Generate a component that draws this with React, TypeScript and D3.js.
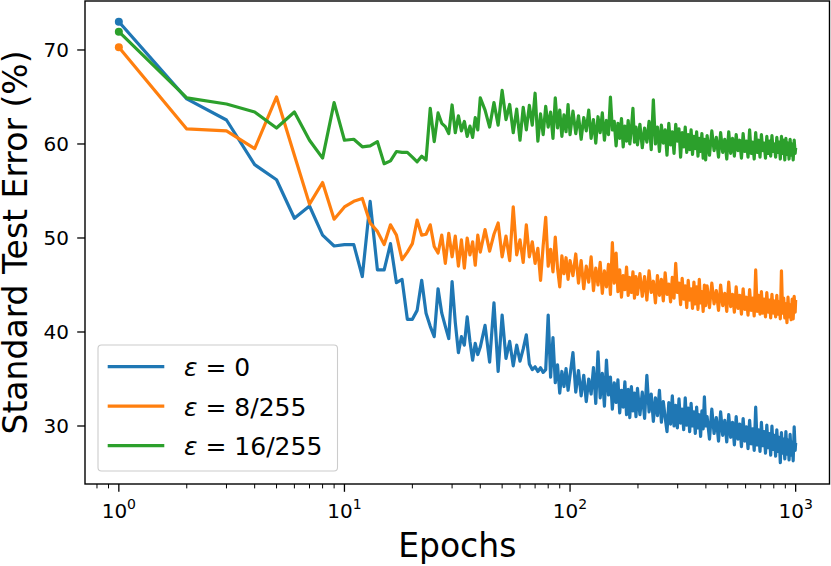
import * as d3 from 'd3';

// epochs at which the curves are sampled (dense at start, thinner later on)
const epochs = [
  ...d3.range(1, 41),
  ...d3.range(42, 101, 2),
  ...d3.range(103, 200, 3),
  ...d3.range(204, 400, 5),
  ...d3.range(405, 1000, 10),
  1000,
];

// eps = 0
const blueA = [
  73.0, 64.8, 62.55, 57.8, 56.2, 52.1, 53.4, 50.3, 49.15, 49.3,
  49.3, 45.9, 53.9, 46.6, 46.6, 49.4, 45.25, 45.6, 41.35, 41.35,
  42.3, 45.5, 42.0, 40.6, 39.5, 44.6, 42.0, 40.6, 39.3, 45.35,
  41.0, 37.8, 39.5, 38.6, 41.6, 39.0, 37.0, 38.8, 37.6, 38.4,
];
const blueB = [
  40.7, 36.8, 43.1, 35.8, 41.8, 37.2, 39.0, 36.4, 38.6, 36.9,
  38.2, 39.7, 36.6, 36.0, 36.3, 35.8, 36.2, 35.7, 36.0, 41.8,
  35.2, 39.4, 34.6, 36.5, 33.5, 35.8, 34.2, 36.1, 33.8, 35.4,
];
const blueC = [
  37.8, 33.6, 35.9, 33.2, 35.4, 32.6, 35.0, 33.4, 36.2, 32.4,
  37.9, 33.0, 35.6, 32.1, 37.0, 33.3, 35.2, 31.8, 34.6, 32.5,
  34.9, 31.4, 33.8, 32.0, 34.7, 31.2, 33.9, 30.9, 34.2, 31.6,
  33.5, 31.0, 34.0,
];
const blueD = [
  31.2, 33.6, 30.8, 35.4, 31.5, 33.4, 30.5, 33.0, 31.1, 33.8,
  30.4, 32.6, 30.9, 29.4, 32.5, 30.2, 33.2, 30.0, 32.2, 29.8,
  32.9, 30.3, 31.8, 29.6, 33.0, 30.1, 31.9, 29.4, 32.4, 30.0,
  31.5, 29.2, 32.0, 29.8, 31.2, 28.9, 31.6, 29.7, 33.1, 30.0,
];
const blueE = [
  31.0, 28.6, 31.8, 29.2, 30.9, 28.4, 31.5, 29.0, 30.6, 28.3,
  31.2, 28.8, 30.4, 28.0, 31.0, 28.6, 30.2, 27.8, 30.8, 28.4,
  29.9, 27.6, 30.6, 28.1, 29.7, 27.4, 32.0, 28.0, 29.6, 27.3,
  30.4, 27.9, 29.4, 27.1, 30.1, 27.7, 29.2, 26.9, 30.0, 27.5,
  29.0, 26.8, 29.6, 27.3, 28.8, 26.1, 29.3, 27.1, 28.6, 26.5,
  29.4, 27.0, 28.5, 26.4, 29.1, 26.9, 28.3, 26.3, 29.9, 27.4,
  28.2,
];

// eps = 8/255
const orangeA = [
  70.3, 61.6, 61.4, 59.5, 65.0, 58.8, 53.6, 55.9, 52.0, 53.3,
  53.9, 54.2, 51.6, 50.7, 49.3, 51.4, 50.3, 47.7, 48.5, 49.4,
  51.9, 50.3, 50.4, 51.4, 49.1, 48.4, 50.3, 47.3, 50.5, 48.0,
  50.2, 47.0, 49.8, 46.8, 50.0, 48.2, 49.6, 47.1, 50.3, 48.5,
];
const orangeB = [
  50.9, 48.6, 50.4, 51.6, 48.0, 50.2, 47.6, 53.3, 48.2, 49.8,
  47.4, 51.4, 48.0, 49.6, 47.3, 48.9, 45.5, 49.2, 52.2, 47.0,
  48.8, 46.4, 50.1, 46.8, 44.8, 48.1, 46.2, 47.9, 45.6, 47.6,
];
const orangeC = [
  46.0, 48.3, 45.2, 47.6, 44.6, 47.0, 45.3, 48.0, 44.4, 46.8,
  45.0, 47.4, 44.1, 46.5, 44.8, 47.2, 44.0, 49.5, 45.2, 48.4,
  44.3, 46.6, 43.7, 46.0, 44.5, 46.9, 43.9, 45.8, 44.2, 46.4,
  43.6, 45.9, 44.0,
];
const orangeD = [
  46.2, 43.8, 45.9, 43.4, 46.5, 44.2, 45.4, 43.1, 46.0, 43.9,
  45.6, 43.3, 46.3, 44.0, 45.1, 43.2, 45.8, 43.6, 47.3, 44.2,
  45.2, 42.9, 45.7, 43.5, 44.9, 42.6, 45.5, 43.4, 44.6, 42.5,
  45.3, 43.0, 44.8, 42.4, 45.6, 43.1, 44.3, 42.2, 45.0, 42.8,
];
const orangeE = [
  44.9, 42.6, 45.2, 43.0, 44.4, 42.3, 45.0, 42.8, 44.1, 42.2,
  45.3, 42.7, 44.0, 42.1, 44.8, 42.5, 43.9, 41.9, 44.6, 42.4,
  43.7, 41.8, 44.5, 42.3, 43.6, 41.7, 46.6, 42.2, 43.9, 41.9,
  44.3, 42.0, 43.5, 41.6, 44.2, 42.1, 43.4, 41.5, 44.0, 42.0,
  43.3, 41.6, 43.9, 41.9, 43.2, 41.4, 46.5, 42.0, 43.6, 41.5,
  43.0, 41.0, 43.7, 41.6, 42.9, 41.3, 43.5, 41.4, 43.8, 42.1,
  43.4,
];

// eps = 16/255
const greenA = [
  71.95, 64.9, 64.25, 63.4, 61.7, 63.4, 60.4, 58.5, 64.4, 60.4,
  60.5, 59.7, 59.8, 60.25, 57.9, 58.2, 59.2, 59.1, 59.1, 58.6,
  58.1, 58.7, 58.3, 63.8, 60.25, 63.3, 62.2, 61.85, 61.1, 64.15,
  61.2, 63.0, 61.4, 62.4, 60.8, 61.9, 60.7, 62.8, 61.5, 64.9,
];
const greenB = [
  63.6, 61.8, 64.4, 62.0, 65.7, 62.6, 64.2, 61.2, 63.7, 60.4,
  63.9, 61.5, 64.1, 62.0, 65.4, 60.3, 63.2, 61.0, 64.0, 61.8,
  63.4, 60.6, 64.9, 61.7, 63.6, 60.8, 63.1, 61.3, 64.2, 61.0,
];
const greenC = [
  63.5, 61.1, 63.0, 60.5, 62.8, 61.4, 63.6, 60.6, 62.6, 60.1,
  62.9, 61.2, 63.3, 60.4, 62.5, 61.0, 65.0, 61.5, 62.4, 59.8,
  62.2, 60.6, 62.7, 59.7, 61.9, 60.3, 62.5, 60.0, 61.6, 63.8,
  60.2, 61.8, 59.9,
];
const greenD = [
  62.1, 59.6, 61.7, 60.2, 62.4, 59.4, 64.7, 60.0, 61.8, 59.2,
  62.0, 60.1, 61.5, 58.8, 62.2, 59.9, 61.3, 59.0, 62.1, 60.3,
  61.6, 58.6, 61.2, 59.7, 61.8, 59.1, 61.0, 59.4, 61.5, 58.9,
  60.8, 59.5, 61.3, 58.7, 60.6, 59.2, 61.1, 58.5, 60.5, 58.3,
];
const greenE = [
  60.9, 58.8, 61.4, 59.3, 60.7, 58.6, 61.2, 59.1, 60.5, 58.4,
  61.3, 59.0, 60.6, 58.7, 61.0, 59.3, 60.4, 58.5, 61.1, 59.2,
  60.3, 58.6, 61.5, 59.0, 60.2, 58.4, 61.2, 59.1, 60.4, 58.6,
  61.0, 59.3, 60.1, 58.5, 60.8, 59.0, 60.3, 58.7, 60.9, 59.2,
  60.0, 58.6, 60.7, 59.1, 60.2, 58.4, 60.8, 59.0, 60.4, 58.3,
  60.6, 58.9, 60.1, 58.4, 60.5, 58.8, 60.0, 58.3, 60.4, 59.0,
  59.6,
];

const seriesValues = [
  [...blueA, ...blueB, ...blueC, ...blueD, ...blueE],
  [...orangeA, ...orangeB, ...orangeC, ...orangeD, ...orangeE],
  [...greenA, ...greenB, ...greenC, ...greenD, ...greenE],
];
const seriesLabels = ['0', '8/255', '16/255'];
const colors = ['#1f77b4', '#ff7f0e', '#2ca02c'];
const yTicks = [30, 40, 50, 60, 70];
const xDecades = [0, 1, 2, 3];

const W = 831;
const H = 566;
const left = 85;
const right = 829.5;
const top = 1;
const bottom = 484;
const lw = 3.2;
const font = '"DejaVu Sans", sans-serif';

export default function App() {
  const x = d3.scaleLog().domain([Math.pow(10, -0.15), Math.pow(10, 3.15)]).range([left, right]);
  const y = d3.scaleLinear().domain([23.83, 75.21]).range([bottom, top]);

  const line = d3
    .line<[number, number]>()
    .x((d) => x(d[0]))
    .y((d) => y(d[1]));

  // minor log ticks inside the domain
  const [d0, d1] = x.domain();
  const minor: number[] = [];
  for (let p = -1; p <= 3; p++) {
    for (let m = 2; m <= 9; m++) {
      const v = m * Math.pow(10, p);
      if (v >= d0 && v <= d1) minor.push(v);
    }
  }

  return (
    <svg
      width={W}
      height={H}
      style={{ position: 'absolute', left: 0, top: 0, background: 'white' }}
      fontFamily={font}
    >
      {/* data */}
      <g fill="none" strokeWidth={lw} strokeLinejoin="round">
        {seriesValues.map((vals, i) => (
          <path
            key={i}
            stroke={colors[i]}
            d={line(epochs.map((e, j) => [e, vals[j]] as [number, number])) || ''}
          />
        ))}
      </g>
      {seriesValues.map((vals, i) => (
        <circle key={i} cx={x(epochs[0])} cy={y(vals[0])} r={4} fill={colors[i]} />
      ))}

      {/* spines */}
      <rect
        x={left}
        y={top}
        width={right - left}
        height={bottom - top}
        fill="none"
        stroke="black"
        strokeWidth={1.4}
      />

      {/* y axis */}
      {yTicks.map((t) => (
        <g key={t} transform={`translate(0,${y(t)})`}>
          <line x1={left - 7.8} x2={left} stroke="black" strokeWidth={1.3} />
          <text x={left - 16} dy="0.36em" textAnchor="end" fontSize={20}>
            {t}
          </text>
        </g>
      ))}

      {/* x axis */}
      {minor.map((t) => (
        <line
          key={t}
          x1={x(t)}
          x2={x(t)}
          y1={bottom}
          y2={bottom + 4.4}
          stroke="black"
          strokeWidth={1}
        />
      ))}
      {xDecades.map((p) => (
        <g key={p} transform={`translate(${x(Math.pow(10, p))},${bottom})`}>
          <line y1={0} y2={7.8} stroke="black" strokeWidth={1.3} />
          <text y={34} textAnchor="middle" fontSize={20}>
            10
            <tspan dy={-9} fontSize={14}>
              {p}
            </tspan>
          </text>
        </g>
      ))}

      {/* axis labels */}
      <text x={(left + right) / 2} y={557} textAnchor="middle" fontSize={33}>
        Epochs
      </text>
      <text
        transform={`translate(27,${(top + bottom) / 2}) rotate(-90)`}
        textAnchor="middle"
        fontSize={33}
      >
        Standard Test Error (%)
      </text>

      {/* legend */}
      <g>
        <rect
          x={98}
          y={345}
          width={239.5}
          height={126}
          rx={3.5}
          fill="white"
          fillOpacity={0.8}
          stroke="#cccccc"
          strokeWidth={1.1}
        />
        {seriesLabels.map((lab, i) => {
          const ly = 366.7 + i * 39.5;
          return (
            <g key={lab}>
              <line x1={107.7} x2={164.3} y1={ly} y2={ly} stroke={colors[i]} strokeWidth={lw} />
              <text x={184} y={ly + 9.3} fontSize={25}>
                <tspan fontStyle="italic">ε</tspan>
                <tspan> = {lab}</tspan>
              </text>
            </g>
          );
        })}
      </g>
    </svg>
  );
}
